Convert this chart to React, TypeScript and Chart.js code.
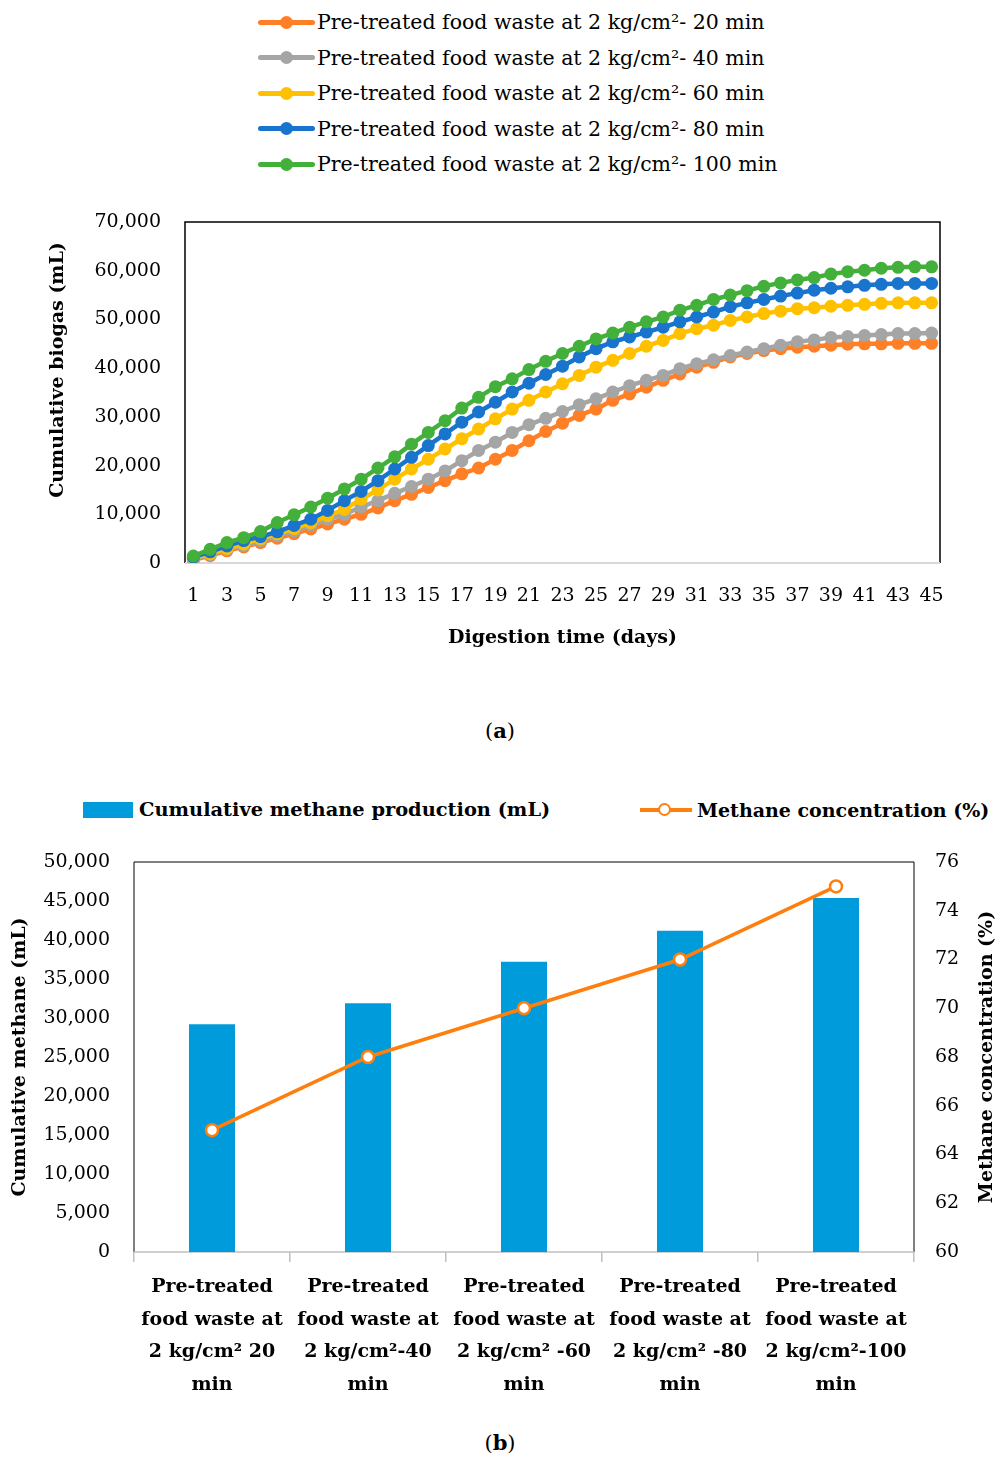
import React, { useEffect, useRef } from "react";
import { Chart, registerables } from "chart.js";

Chart.register(...registerables);

const FONT = "'DejaVu Serif', serif";
const FS = 19;
const LEGEND_FS = 20.5;

// ---------- Chart (a) data ----------
const days = [
  "1", "2", "3", "4", "5", "6", "7", "8", "9", "10", "11", "12", "13", "14", "15",
  "16", "17", "18", "19", "20", "21", "22", "23", "24", "25", "26", "27", "28", "29", "30",
  "31", "32", "33", "34", "35", "36", "37", "38", "39", "40", "41", "42", "43", "44", "45",
];
const shownDayTicks = [
  "1", "3", "5", "7", "9", "11", "13", "15", "17", "19", "21", "23",
  "25", "27", "29", "31", "33", "35", "37", "39", "41", "43", "45",
];
const seriesNamesA = [
  "Pre-treated food waste at 2 kg/cm²- 20 min",
  "Pre-treated food waste at 2 kg/cm²- 40 min",
  "Pre-treated food waste at 2 kg/cm²- 60 min",
  "Pre-treated food waste at 2 kg/cm²- 80 min",
  "Pre-treated food waste at 2 kg/cm²- 100 min",
];
const seriesColorsA = ["#FF7F27", "#A5A5A5", "#FFC000", "#1874CD", "#44B03C"];

const biogas20 = [
  600, 1500, 2500, 3300, 4200, 5100, 6000, 7000, 8000, 9000, 10000, 11300, 12800, 14100, 15500,
  16900, 18300, 19500, 21300, 23100, 25100, 27000, 28700, 30300, 31600, 33400, 34700, 36100, 37500, 38800,
  40200, 41200, 42300, 43000, 43600, 44000, 44300, 44500, 44700, 44900, 45000, 45000, 45100, 45100, 45100,
];
const biogas40 = [
  800, 1700, 2800, 3600, 4600, 5600, 6600, 7800, 9000, 10000, 11500, 12800, 14300, 15700, 17200,
  18900, 21000, 23100, 24800, 26800, 28400, 29700, 31100, 32500, 33700, 35100, 36400, 37500, 38500, 39900,
  40900, 41700, 42600, 43300, 44000, 44700, 45400, 45800, 46300, 46500, 46700, 46900, 47100, 47100, 47200,
];
const biogas60 = [
  1000, 1900, 3000, 3900, 5000, 6000, 7100, 8300, 9700, 11000, 13100, 15000, 17200, 19300, 21300,
  23400, 25500, 27500, 29600, 31600, 33400, 35100, 36800, 38500, 40200, 41600, 43000, 44500, 45700, 47100,
  48100, 48800, 49800, 50500, 51200, 51700, 52200, 52400, 52700, 52900, 53100, 53300, 53400, 53400, 53400,
];
const biogas80 = [
  1200, 2300, 3500, 4600, 5400, 6400, 7700, 9000, 10800, 12800, 14700, 16900, 19300, 21700, 24100,
  26500, 28900, 31000, 33000, 35100, 36900, 38700, 40400, 42300, 44000, 45400, 46400, 47400, 48400, 49500,
  50500, 51500, 52600, 53400, 54100, 54800, 55400, 56000, 56400, 56700, 57000, 57200, 57400, 57400, 57400,
];
const biogas100 = [
  1440, 2800, 4200, 5200, 6450, 8300, 9900, 11500, 13300, 15200, 17200, 19500, 21800, 24400, 26800,
  29200, 31800, 34000, 36200, 37800, 39700, 41400, 43000, 44500, 46000, 47200, 48400, 49500, 50500, 51900,
  52900, 54100, 55000, 55900, 56800, 57500, 58100, 58600, 59300, 59800, 60100, 60500, 60700, 60800, 60800,
];
const seriesA = [biogas20, biogas40, biogas60, biogas80, biogas100];

// ---------- Chart (b) data ----------
const categoriesB = [
  ["Pre-treated", "food waste at", "2 kg/cm² 20", "min"],
  ["Pre-treated", "food waste at", "2 kg/cm²-40", "min"],
  ["Pre-treated", "food waste at", "2 kg/cm² -60", "min"],
  ["Pre-treated", "food waste at", "2 kg/cm² -80", "min"],
  ["Pre-treated", "food waste at", "2 kg/cm²-100", "min"],
];
const methaneProduction = [29200, 31900, 37200, 41200, 45400];
const methaneConcentration = [65, 68, 70, 72, 75];
const barLabelB = "Cumulative methane production (mL)";
const lineLabelB = "Methane concentration (%)";
const BAR_COLOR = "#009BDA";
const LINE_COLOR = "#FF7F0E";

const fmt = (v: number) => Number(v).toLocaleString("en-US");

function makeFrame(lineW: number, bottomColor: string, bottomW: number) {
  return {
    id: "frame",
    beforeDatasetsDraw(chart: any) {
      const { ctx, chartArea } = chart;
      const { left, top, right, bottom } = chartArea;
      ctx.save();
      ctx.strokeStyle = "#000";
      ctx.lineWidth = lineW;
      ctx.beginPath();
      ctx.moveTo(left, bottom);
      ctx.lineTo(left, top);
      ctx.lineTo(right, top);
      ctx.lineTo(right, bottom);
      ctx.stroke();
      ctx.strokeStyle = bottomColor;
      ctx.lineWidth = bottomW;
      ctx.beginPath();
      ctx.moveTo(left, bottom);
      ctx.lineTo(right, bottom);
      ctx.stroke();
      ctx.restore();
    },
  };
}

function makeVText(items: { text: string; x: number; y: number }[]) {
  return {
    id: "vtext",
    afterDraw(chart: any) {
      const { ctx } = chart;
      ctx.save();
      ctx.fillStyle = "#000";
      ctx.font = `bold ${FS}px ${FONT}`;
      ctx.textAlign = "center";
      ctx.textBaseline = "middle";
      for (const it of items) {
        ctx.save();
        ctx.translate(it.x, it.y);
        ctx.rotate(-Math.PI / 2);
        ctx.fillText(it.text, 0, 0);
        ctx.restore();
      }
      ctx.restore();
    },
  };
}

const fixWidth = (w: number) => (s: any) => {
  s.width = w;
  s.paddingTop = 0;
  s.paddingBottom = 0;
};

function ChartA() {
  const ref = useRef<HTMLCanvasElement | null>(null);
  useEffect(() => {
    if (!ref.current) return;
    const chart = new Chart(ref.current, {
      type: "line",
      data: {
        labels: days,
        datasets: seriesA.map((d, i) => ({
          label: seriesNamesA[i],
          data: d,
          borderColor: seriesColorsA[i],
          backgroundColor: seriesColorsA[i],
          pointBackgroundColor: seriesColorsA[i],
          pointBorderColor: seriesColorsA[i],
          pointBorderWidth: 0,
          pointRadius: 6.5,
          borderWidth: 4.5,
          tension: 0,
          order: seriesA.length - i,
        })),
      },
      options: {
        animation: false,
        responsive: false,
        events: [],
        layout: { padding: { top: 22, right: 60, left: 0, bottom: 0 } },
        plugins: { legend: { display: false }, tooltip: { enabled: false } },
        scales: {
          x: {
            type: "category",
            offset: true,
            grid: { display: false, drawTicks: false },
            border: { display: false },
            ticks: {
              autoSkip: false,
              maxRotation: 0,
              padding: 22,
              color: "#000",
              font: { family: FONT, size: FS },
              callback: (_v: any, idx: number) =>
                shownDayTicks.includes(days[idx]) ? days[idx] : "",
            },
            title: {
              display: true,
              text: "Digestion time (days)",
              color: "#000",
              font: { family: FONT, size: FS, weight: "bold" },
              padding: { top: 0, bottom: 0 },
            },
            afterFit: (s: any) => {
              s.height = 86;
            },
          },
          y: {
            min: 0,
            max: 70000,
            grid: { display: false, drawTicks: false },
            border: { display: false },
            ticks: {
              stepSize: 10000,
              padding: 24,
              color: "#000",
              font: { family: FONT, size: FS },
              callback: (v: any) => fmt(v),
            },
            afterFit: fixWidth(185),
          },
        },
      } as any,
      plugins: [
        makeFrame(1.5, "#D9D9D9", 2),
        makeVText([{ text: "Cumulative biogas (mL)", x: 58, y: 170 }]),
      ],
    });
    return () => chart.destroy();
  }, []);
  return (
    <canvas
      ref={ref}
      width={1000}
      height={449}
      style={{ position: "absolute", left: 0, top: 200, width: 1000, height: 449 }}
    />
  );
}

function ChartB() {
  const ref = useRef<HTMLCanvasElement | null>(null);
  useEffect(() => {
    if (!ref.current) return;
    const chart = new Chart(ref.current, {
      type: "bar",
      data: {
        labels: categoriesB,
        datasets: [
          {
            type: "line",
            label: lineLabelB,
            data: methaneConcentration,
            yAxisID: "y1",
            borderColor: LINE_COLOR,
            backgroundColor: "#FFFFFF",
            pointBackgroundColor: "#FFFFFF",
            pointBorderColor: LINE_COLOR,
            pointBorderWidth: 2.5,
            pointRadius: 6,
            borderWidth: 3.5,
            tension: 0,
            order: 0,
          },
          {
            type: "bar",
            label: barLabelB,
            data: methaneProduction,
            yAxisID: "y",
            backgroundColor: BAR_COLOR,
            barPercentage: 0.295,
            categoryPercentage: 1,
            order: 1,
          },
        ],
      },
      options: {
        animation: false,
        responsive: false,
        events: [],
        layout: { padding: { top: 22, right: 0, left: 0, bottom: 0 } },
        plugins: { legend: { display: false }, tooltip: { enabled: false } },
        scales: {
          x: {
            type: "category",
            offset: true,
            grid: {
              display: true,
              drawOnChartArea: false,
              drawTicks: true,
              tickLength: 10,
              color: "#BFBFBF",
              lineWidth: 1.5,
              offset: true,
            },
            border: { display: false },
            ticks: {
              autoSkip: false,
              maxRotation: 0,
              padding: 9,
              color: "#000",
              font: { family: FONT, size: FS, weight: "bold", lineHeight: 1.71 },
            },
            afterFit: (s: any) => {
              s.height = 160;
            },
          },
          y: {
            position: "left",
            min: 0,
            max: 50000,
            grid: { display: false, drawTicks: false },
            border: { display: false },
            ticks: {
              stepSize: 5000,
              padding: 24,
              color: "#000",
              font: { family: FONT, size: FS },
              callback: (v: any) => fmt(v),
            },
            title: {
              display: true,
              text: "Cumulative methane (mL)",
              color: "#000",
              font: { family: FONT, size: FS, weight: "bold" },
              padding: { top: 9, bottom: 0 },
            },
            afterFit: fixWidth(134),
          },
          y1: {
            position: "right",
            min: 60,
            max: 76,
            grid: { display: false, drawTicks: false },
            border: { display: false },
            ticks: {
              stepSize: 2,
              padding: 21,
              color: "#000",
              font: { family: FONT, size: FS },
            },
            afterFit: fixWidth(86),
          },
        },
      } as any,
      plugins: [
        makeFrame(1, "#BFBFBF", 1.5),
        makeVText([{ text: "Methane concentration (%)", x: 987, y: 217 }]),
      ],
    });
    return () => chart.destroy();
  }, []);
  return (
    <canvas
      ref={ref}
      width={1000}
      height={572}
      style={{ position: "absolute", left: 0, top: 840, width: 1000, height: 572 }}
    />
  );
}

export default function App() {
  return (
    <div
      style={{
        position: "absolute",
        left: 0,
        top: 0,
        width: 1000,
        height: 1459,
        background: "#fff",
        fontFamily: FONT,
        color: "#000",
        overflow: "hidden",
      }}
    >
      {/* Legend (a) */}
      {seriesNamesA.map((n, i) => (
        <div
          key={n}
          style={{
            position: "absolute",
            left: 258,
            top: 8 + i * 35.5,
            height: 28,
            display: "flex",
            alignItems: "center",
          }}
        >
          <div style={{ position: "relative", width: 57, height: 28 }}>
            <div
              style={{
                position: "absolute",
                left: 0,
                right: 0,
                top: 11.5,
                height: 5,
                borderRadius: 2.5,
                background: seriesColorsA[i],
              }}
            />
            <div
              style={{
                position: "absolute",
                left: 22,
                top: 7.5,
                width: 13,
                height: 13,
                borderRadius: "50%",
                background: seriesColorsA[i],
              }}
            />
          </div>
          <span style={{ marginLeft: 2, fontSize: LEGEND_FS, lineHeight: "28px", whiteSpace: "nowrap" }}>{n}</span>
        </div>
      ))}

      <ChartA />

      <div style={{ position: "absolute", left: 0, width: 1000, top: 716, textAlign: "center", fontSize: 21, lineHeight: "30px" }}>
        (<b>a</b>)
      </div>

      {/* Legend (b) */}
      <div style={{ position: "absolute", left: 83, top: 802, width: 50, height: 16, background: BAR_COLOR }} />
      <div style={{ position: "absolute", left: 139, top: 796, fontSize: 19.4, fontWeight: "bold", lineHeight: "28px", whiteSpace: "nowrap" }}>
        {barLabelB}
      </div>
      <div style={{ position: "absolute", left: 640, top: 808, width: 52, height: 3.5, background: LINE_COLOR }} />
      <div
        style={{
          position: "absolute",
          left: 658,
          top: 803,
          width: 9,
          height: 9,
          borderRadius: "50%",
          background: "#fff",
          border: `2.5px solid ${LINE_COLOR}`,
        }}
      />
      <div style={{ position: "absolute", left: 697, top: 796, fontSize: 19, fontWeight: "bold", lineHeight: "28px", whiteSpace: "nowrap" }}>
        {lineLabelB}
      </div>

      <ChartB />

      <div style={{ position: "absolute", left: 0, width: 1000, top: 1428, textAlign: "center", fontSize: 21, lineHeight: "30px" }}>
        (<b>b</b>)
      </div>
    </div>
  );
}
